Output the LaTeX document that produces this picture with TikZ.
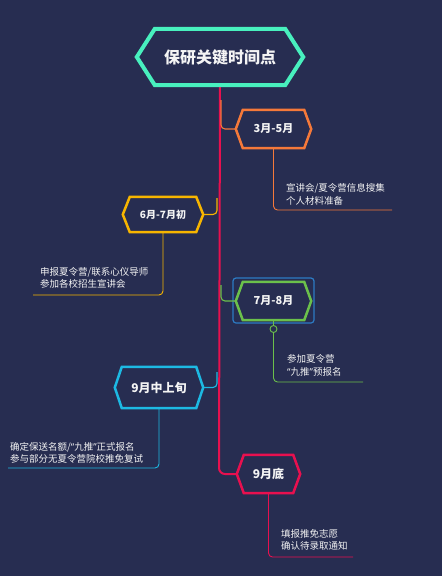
\documentclass[tikz,border=0pt]{standalone}
\usepackage{fontspec}
\setmainfont{Noto Sans CJK SC}
\newfontfamily\latq{Noto Sans}
\newcommand\myLq{{\latq “}}
\newcommand\myRq{{\latq ”}}
\definecolor{bg}{HTML}{272D51}
\definecolor{cmint}{HTML}{48F0BE}
\definecolor{corange}{HTML}{F5793A}
\definecolor{cyellow}{HTML}{F7B500}
\definecolor{cgreen}{HTML}{6BC04B}
\definecolor{cblue}{HTML}{2D7BC4}
\definecolor{ccyan}{HTML}{1DB9E3}
\definecolor{ccrim}{HTML}{E8104F}
\definecolor{txt}{HTML}{F4F4F4}
\newcommand\hexdraw[4]{\draw[#2,line width=#4,line join=miter] (#1.west) -- ([xshift=#3]#1.north west) -- ([xshift=-#3]#1.north east) -- (#1.east) -- ([xshift=-#3]#1.south east) -- ([xshift=#3]#1.south west) -- cycle;}
\begin{document}
\begin{tikzpicture}[x=1pt,y=-1pt,
  hexnode/.style={inner sep=0pt,text=txt,font=\bfseries\fontsize{11}{13}\selectfont},
  branch/.style={line width=1.1pt,rounded corners=4pt},
  child/.style={line width=0.9pt,rounded corners=4pt},
  note/.style={anchor=west,align=left,inner sep=0pt,text=txt,font=\fontsize{9.5}{12.5}\selectfont}]
\fill[bg] (0,0) rectangle (442,576);
\useasboundingbox (0,0) rectangle (442,576);
% nodes
\node[hexnode,minimum width=166pt,minimum height=56pt,font=\bfseries\fontsize{16}{18}\selectfont] (root) at (220,57) {保研关键时间点};
\node[hexnode,minimum width=75pt,minimum height=38pt] (n1) at (273.5,129) {3月-5月};
\node[hexnode,minimum width=80pt,minimum height=35pt,font=\bfseries\fontsize{10}{12}\selectfont] (n2) at (163,214.5) {6月-7月初};
\node[hexnode,minimum width=75pt,minimum height=38pt] (n3) at (273.5,301) {7月-8月};
\node[hexnode,minimum width=88pt,minimum height=41pt,font=\bfseries\fontsize{12}{14}\selectfont] (n4) at (159,387.5) {9月中上旬};
\node[hexnode,minimum width=63pt,minimum height=38pt,font=\bfseries\fontsize{12}{14}\selectfont] (n5) at (268.5,474) {9月底};
% selection frame
\draw[cblue,line width=1.2pt,rounded corners=3pt] (233,278) rectangle (314,323);
% spine
\draw[ccrim,line width=2pt,rounded corners=6pt] (root.south) -- ([xshift=-1pt]root.south |- n5.west) -- (n5.west);
% branch connectors
\coordinate (c1) at (221,100);
\coordinate (c2) at (217,198);
\coordinate (c3) at (221,285);
\coordinate (c4) at (217,372);
\draw[branch,corange] (c1) |- (n1.west);
\draw[branch,cyellow] (n2.east) -| (c2);
\draw[branch,cgreen] (c3) |- (n3.west);
\draw[branch,ccyan] (n4.east) -| (c4);
% child lines
\coordinate (e1) at (392,210);
\coordinate (e2) at (33,295);
\coordinate (e3) at (363,382);
\coordinate (e4) at (8,468);
\coordinate (e5) at (353,557);
\draw[child,corange] (n1.south) |- (e1);
\draw[child,cyellow] (n2.south) |- (e2);
\node[draw=cgreen,circle,line width=0.9pt,minimum size=7pt,inner sep=0pt] (k3) at (273.5,329) {};
\draw[child,cgreen] (n3.south) -- (k3.north);
\draw[child,cgreen] (k3.south) |- (e3);
\draw[child,ccyan] (n4.south) |- (e4);
\draw[child,ccrim] (n5.south) |- (e5);
% hexagon outlines
\hexdraw{root}{cmint}{18pt}{4pt}
\hexdraw{n1}{corange}{7pt}{2.5pt}
\hexdraw{n2}{cyellow}{7pt}{2.5pt}
\hexdraw{n3}{cgreen}{7pt}{2.5pt}
\hexdraw{n4}{ccyan}{7pt}{2.5pt}
\hexdraw{n5}{ccrim}{7pt}{2.5pt}
% notes
\node[note] (t1) at (286,194.5) {宣讲会/夏令营信息搜集\\个人材料准备};
\node[note] (t2) at (40,278) {申报夏令营/联系心仪导师\\参加各校招生宣讲会};
\node[note] (t3) at (287,365.5) {参加夏令营\\\myLq 九推\myRq 预报名};
\node[note] (t4) at (10,453) {确定保送名额/\myLq 九推\myRq 正式报名\\参与部分无夏令营院校推免复试};
\node[note] (t5) at (281,540) {填报推免志愿\\确认待录取通知};
\end{tikzpicture}
\end{document}
